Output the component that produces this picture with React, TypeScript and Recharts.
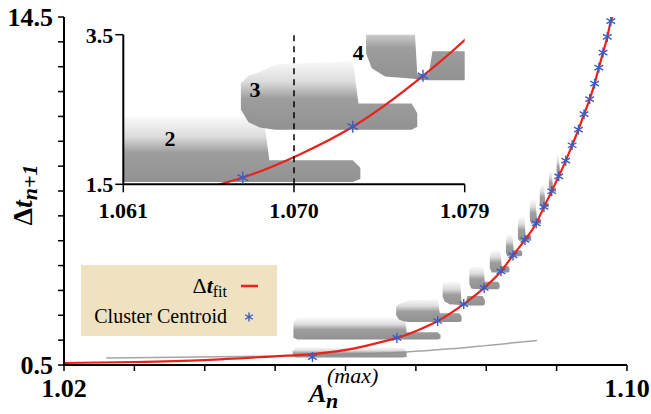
import React from 'react';
import { ComposedChart, Area, Line, Scatter, XAxis, YAxis, ReferenceLine, ReferenceDot, Legend } from 'recharts';

const SERIF = 'Liberation Serif';
const RED = '#e8231b';
const BLUE = '#3b5cc4';
const GREY = '#8c8c8c';

// fitted curve Δt_fit (A_n^max, Δt_n+1)
const fitX = [1.02, 1.03, 1.04, 1.05, 1.0553, 1.0611, 1.0661, 1.0673, 1.0703, 1.0731, 1.0768, 1.0797, 1.0821, 1.0838, 1.0855, 1.0871, 1.0882, 1.0893, 1.0903, 1.0913, 1.0922, 1.0931, 1.0939, 1.0947, 1.0954, 1.096, 1.0966, 1.0972, 1.0977, 1.0979];
const fitY = [0.58, 0.62, 0.7, 0.85, 0.94, 1.16, 1.5, 1.59, 1.9, 2.27, 2.95, 3.6, 4.27, 4.91, 5.53, 6.2, 6.86, 7.49, 8.09, 8.72, 9.34, 9.97, 10.59, 11.2, 11.82, 12.46, 13.07, 13.7, 14.33, 14.5];

// cluster centroids
const centroidX = [1.0553, 1.0673, 1.0731, 1.0768, 1.0797, 1.0821, 1.0838, 1.0855, 1.0871, 1.0882, 1.0893, 1.0903, 1.0913, 1.0922, 1.0931, 1.0939, 1.0947, 1.0954, 1.096, 1.0966, 1.0972, 1.0977];
const centroidY = [0.82, 1.59, 2.27, 2.95, 3.6, 4.27, 4.91, 5.53, 6.2, 6.86, 7.49, 8.09, 8.72, 9.34, 9.97, 10.59, 11.2, 11.82, 12.46, 13.07, 13.7, 14.33];

// faint grey trail under the first cluster
const trailX = [1.026, 1.045, 1.0526, 1.0686, 1.0748, 1.0872];
const trailY = [0.78, 0.84, 0.87, 1.02, 1.15, 1.49];

// scatter clouds per cluster: [A, low, high]
const level1 = [[1.0525, 0.86, 1.05], [1.053, 0.8, 1.2], [1.0682, 0.8, 1.2], [1.0687, 0.83, 1.02]];
const level2 = [[1.0526, 1.6, 2.2], [1.0532, 1.53, 2.4], [1.0684, 1.53, 2.4], [1.0687, 1.53, 1.82], [1.0731, 1.53, 1.82], [1.0735, 1.57, 1.72]];
const level3 = [[1.0672, 2.5, 2.85], [1.0676, 2.33, 2.95], [1.0682, 2.26, 3.0], [1.069, 2.23, 3.1], [1.0731, 2.23, 3.15], [1.0734, 2.23, 2.58], [1.0762, 2.23, 2.58], [1.0765, 2.27, 2.45]];
const level4 = [[1.0738, 3.25, 3.75], [1.0741, 3.05, 3.85], [1.0748, 2.94, 3.85], [1.0763, 2.91, 3.85], [1.0765, 2.9, 2.97], [1.0771, 2.89, 2.97], [1.0773, 2.89, 3.28], [1.0795, 2.89, 3.28], [1.0798, 2.93, 3.1]];
const level5 = [[1.0776, 3.75, 4.3], [1.0779, 3.57, 4.45], [1.0796, 3.55, 4.45], [1.0798, 3.55, 3.85], [1.0817, 3.55, 3.85], [1.0819, 3.6, 3.75]];
const level6 = [[1.0805, 4.4, 4.9], [1.0808, 4.22, 5.1], [1.082, 4.22, 5.1], [1.0822, 4.22, 4.48], [1.0831, 4.22, 4.48], [1.0833, 4.26, 4.4]];
const level7 = [[1.0828, 5.0, 5.5], [1.083, 4.88, 5.75], [1.0837, 4.88, 5.75], [1.0839, 4.88, 5.12], [1.0849, 4.88, 5.12], [1.0851, 4.92, 5.05]];
const level8 = [[1.0845, 5.6, 6.2], [1.0847, 5.5, 6.45], [1.0854, 5.5, 6.45], [1.0856, 5.5, 5.72], [1.0864, 5.5, 5.72]];
const level9 = [[1.0862, 6.3, 6.9], [1.0864, 6.18, 7.15], [1.087, 6.18, 7.15], [1.0872, 6.18, 6.38], [1.0878, 6.18, 6.36]];
const level10 = [[1.0876, 6.95, 7.5], [1.0878, 6.85, 7.75], [1.0882, 6.85, 7.75], [1.0884, 6.85, 7.0], [1.0889, 6.85, 7.0]];
const level11 = [[1.0889, 7.55, 8.1], [1.089, 7.47, 8.3], [1.0893, 7.47, 8.3], [1.0895, 7.47, 7.6], [1.0899, 7.47, 7.6]];
const level12 = [[1.09, 8.07, 8.95], [1.0903, 8.07, 8.95], [1.0905, 8.07, 8.2]];

const levels = [level1, level2, level3, level4, level5, level6, level7, level8, level9, level10, level11, level12];

const mainXTicks = [1.02, 1.03, 1.04, 1.05, 1.06, 1.07, 1.08, 1.09, 1.1];
const mainYTicks = [0.5, 1.5, 2.5, 3.5, 4.5, 5.5, 6.5, 7.5, 8.5, 9.5, 10.5, 11.5, 12.5, 13.5, 14.5];
const insetXTicks = [1.061, 1.07, 1.079];
const insetYTicks = [1.5, 3.5];

const cloudData = levels.map(rows => rows.map(([x, lo, hi]) => ({ x, r: [lo, hi] })));
const fitData = fitX.map((x, i) => ({ x, y: fitY[i] }));
const centroidData = centroidX.map((x, i) => ({ x, y: centroidY[i] }));
const trailData = trailX.map((x, i) => ({ x, y: trailY[i] }));

const StarMark = ({ cx, cy, s = 5 }: { cx?: number; cy?: number; s?: number }) => {
    if (cx == null || cy == null) return null;
    const dx = s * 0.87, dy = s * 0.5;
    return (
        <g stroke={BLUE} strokeWidth={1.4}>
            <line x1={cx} y1={cy - s} x2={cx} y2={cy + s} />
            <line x1={cx - dx} y1={cy - dy} x2={cx + dx} y2={cy + dy} />
            <line x1={cx - dx} y1={cy + dy} x2={cx + dx} y2={cy - dy} />
        </g>
    );
};

const Fade = ({ id }: { id: string }) => (
    <defs>
        <linearGradient id={id} x1="0" y1="0" x2="0" y2="1">
            <stop offset="0" stopColor={GREY} stopOpacity={0.05} />
            <stop offset="0.3" stopColor={GREY} stopOpacity={0.3} />
            <stop offset="0.55" stopColor={GREY} stopOpacity={0.85} />
            <stop offset="1" stopColor={GREY} stopOpacity={0.95} />
        </linearGradient>
    </defs>
);

const YTitle = () => (
    <text transform="translate(32,195) rotate(-90)" textAnchor="middle" fontFamily={SERIF} fontWeight="bold" fontSize={28} fill="#000">
        <tspan>Δ</tspan>
        <tspan fontStyle="italic">t</tspan>
        <tspan fontStyle="italic" fontSize={22} dy={5}>n+1</tspan>
    </text>
);

const XTitle = () => (
    <g fontFamily={SERIF} fill="#000">
        <text x={309} y={402} fontSize={26} fontWeight="bold" fontStyle="italic">A</text>
        <text x={326} y={408} fontSize={22} fontWeight="bold" fontStyle="italic">n</text>
        <text x={327} y={383} fontSize={22} fontStyle="italic">(max)</text>
    </g>
);

const LegendBox = () => (
    <svg width={196} height={71} style={{ display: 'block' }}>
        <rect x={0} y={0} width={196} height={71} fill="#eee2c0" />
        <text x={146} y={28} textAnchor="end" fontFamily={SERIF} fontSize={22} fill="#000">
            <tspan>Δ</tspan>
            <tspan fontStyle="italic" fontWeight="bold">t</tspan>
            <tspan fontSize={16} dy={4}>fit</tspan>
        </text>
        <line x1={160} y1={21} x2={177} y2={21} stroke={RED} strokeWidth={2.5} />
        <text x={146} y={58} textAnchor="end" fontFamily={SERIF} fontSize={20} fill="#000">Cluster Centroid</text>
        <StarMark cx={168} cy={52} s={4.5} />
    </svg>
);

const axisLine = { stroke: '#000', strokeWidth: 2 };
const tickLine = { stroke: '#000', strokeWidth: 1.5 };
const mainTick = { fontFamily: SERIF, fontSize: 26, fontWeight: 'bold', fill: '#000' };
const insetTick = { fontFamily: SERIF, fontSize: 22, fontWeight: 'bold', fill: '#000' };

const endsOnly = (ticks: number[], digits: number) => (v: number, i: number) =>
    i === 0 || i === ticks.length - 1 ? v.toFixed(digits) : '';

const Clouds = ({ fill }: { fill: string }) => (
    <>
        {cloudData.map((d, i) => (
            <Area key={i} data={d} dataKey="r" type="linear" stroke="none" fill={fill} fillOpacity={1}
                dot={false} activeDot={false} isAnimationActive={false} />
        ))}
    </>
);

const App: React.FC = () => {
    return (
        <div style={{ position: 'absolute', left: 0, top: 0, width: 651, height: 414, background: '#fff', fontFamily: SERIF }}>
            <ComposedChart width={651} height={414} margin={{ top: 17, right: 24, left: 0, bottom: 0 }}>
                <Fade id="fadeMain" />
                <XAxis dataKey="x" type="number" domain={[1.02, 1.1]} ticks={mainXTicks} allowDataOverflow
                    height={49} tickSize={6} tickMargin={8} axisLine={axisLine} tickLine={tickLine}
                    tick={mainTick} tickFormatter={endsOnly(mainXTicks, 2)} interval={0} label={<XTitle />} />
                <XAxis xAxisId="top" orientation="top" type="number" domain={[1.02, 1.1]} ticks={mainXTicks} allowDataOverflow
                    height={0} tickSize={6} axisLine={axisLine} tickLine={tickLine} tickFormatter={() => ''} interval={0} />
                <YAxis type="number" domain={[0.5, 14.5]} ticks={mainYTicks} allowDataOverflow
                    width={64} tickSize={6} tickMargin={5} axisLine={axisLine} tickLine={tickLine}
                    tick={mainTick} tickFormatter={endsOnly(mainYTicks, 1)} interval={0} label={<YTitle />} />
                <YAxis yAxisId="right" orientation="right" type="number" domain={[0.5, 14.5]} ticks={mainYTicks} allowDataOverflow
                    width={0} tickSize={6} axisLine={axisLine} tickLine={tickLine} tickFormatter={() => ''} interval={0} />
                {Clouds({ fill: 'url(#fadeMain)' })}
                <Line data={trailData} dataKey="y" type="monotone" stroke="#8f8f8f" strokeWidth={1.5} strokeOpacity={0.8}
                    dot={false} activeDot={false} isAnimationActive={false} />
                <Line data={fitData} dataKey="y" type="monotone" stroke={RED} strokeWidth={2.2}
                    dot={false} activeDot={false} isAnimationActive={false} />
                <Scatter data={centroidData} dataKey="y" shape={(p: any) => <StarMark cx={p.cx} cy={p.cy} />} isAnimationActive={false} />
                <Legend layout="vertical" align="center" verticalAlign="middle" content={() => <LegendBox />}
                    wrapperStyle={{ left: 81, top: 265, width: 196, height: 71 }} />
            </ComposedChart>

            <div style={{ position: 'absolute', left: 60, top: 20 }}>
                <ComposedChart width={450} height={210} margin={{ top: 14.7, right: 45.3, left: 0, bottom: 0 }}>
                    <Fade id="fadeInset" />
                    <XAxis dataKey="x" type="number" domain={[1.061, 1.079]} ticks={insetXTicks} allowDataOverflow
                        height={45.7} tickSize={8} tickMargin={10} axisLine={axisLine} tickLine={tickLine}
                        tick={insetTick} tickFormatter={(v: number) => v.toFixed(3)} interval={0} />
                    <XAxis xAxisId="top" orientation="top" type="number" domain={[1.061, 1.079]} ticks={[1.079]} allowDataOverflow
                        height={0} tickSize={6} axisLine={axisLine} tickLine={tickLine} tickFormatter={() => ''} />
                    <YAxis type="number" domain={[1.5, 3.5]} ticks={insetYTicks} allowDataOverflow
                        width={63.3} tickSize={8} tickMargin={2} axisLine={axisLine} tickLine={tickLine}
                        tick={insetTick} tickFormatter={(v: number) => v.toFixed(1)} interval={0} />
                    <YAxis yAxisId="right" orientation="right" type="number" domain={[1.5, 3.5]} ticks={[3.5]} allowDataOverflow
                        width={0} tickSize={8} axisLine={axisLine} tickLine={tickLine} tickFormatter={() => ''} />
                    <YAxis yAxisId="rightIn" orientation="right" type="number" domain={[1.5, 3.5]} ticks={[2.5]} allowDataOverflow mirror
                        width={0} tickSize={6} axisLine={false} tickLine={tickLine} tickFormatter={() => ''} />
                    {Clouds({ fill: 'url(#fadeInset)' })}
                    <Line data={fitData} dataKey="y" type="monotone" stroke={RED} strokeWidth={2.2}
                        dot={false} activeDot={false} isAnimationActive={false} />
                    <Scatter data={centroidData} dataKey="y" shape={(p: any) => <StarMark cx={p.cx} cy={p.cy} s={6} />} isAnimationActive={false} />
                    <ReferenceLine x={1.07} stroke="#000" strokeWidth={1.5} strokeDasharray="6 5" />
                    {[['2', 1.06346, 2.115], ['3', 1.06794, 2.77], ['4', 1.07339, 3.27]].map(([t, x, y]) => (
                        <ReferenceDot key={t as string} x={x as number} y={y as number} r={0} stroke="none" fill="none"
                            label={{ value: t as string, position: 'center', fontFamily: SERIF, fontSize: 22, fontWeight: 'bold', fill: '#000' }} />
                    ))}
                </ComposedChart>
            </div>
        </div>
    );
};

export default App;
